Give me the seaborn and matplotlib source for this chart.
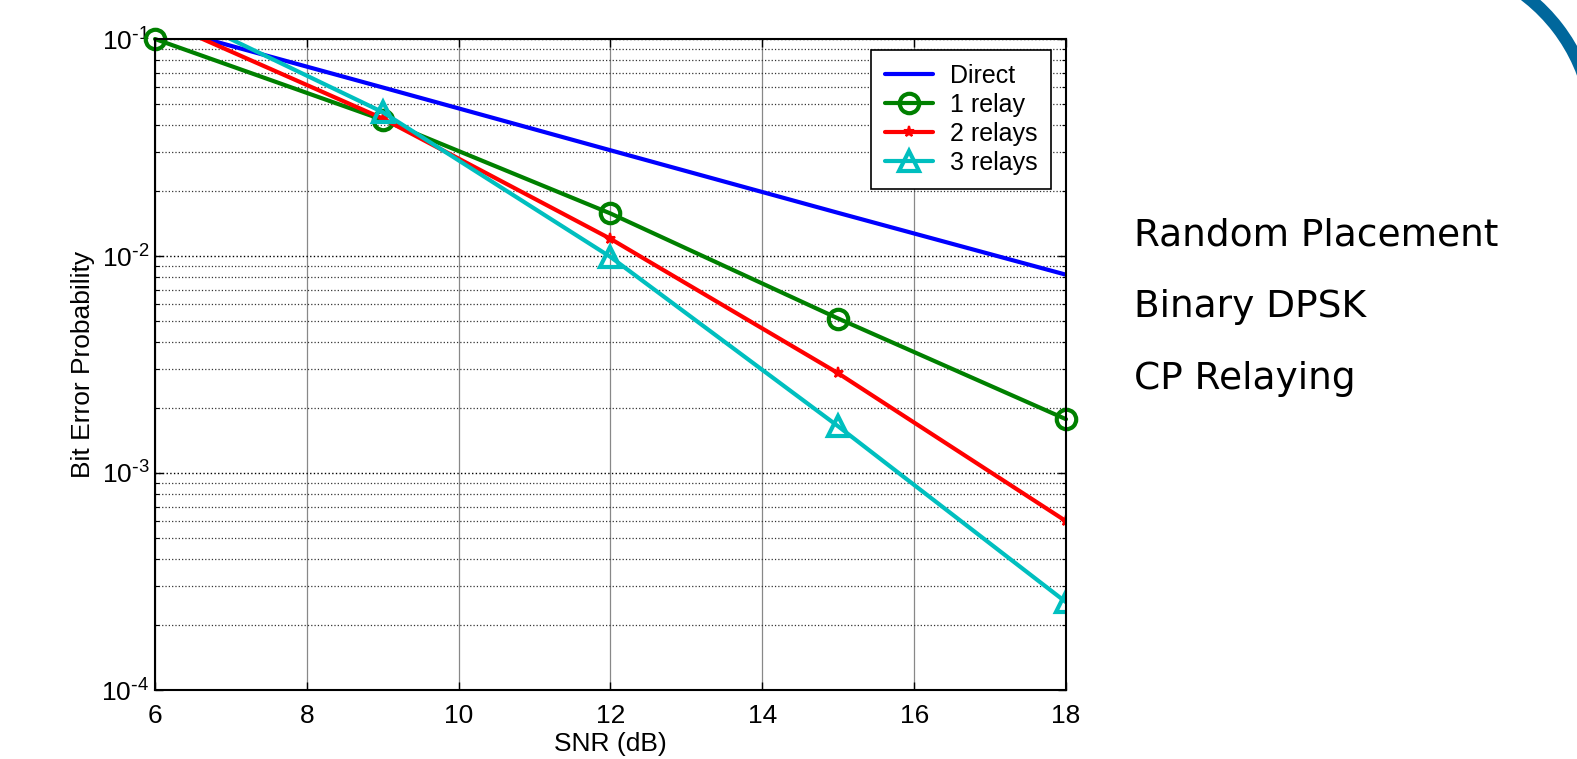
import matplotlib
matplotlib.use("Agg")
import matplotlib.pyplot as plt
from matplotlib.patches import Arc
from matplotlib.ticker import LogLocator, FixedFormatter
import numpy as np
import pandas as pd
import seaborn as sns

# values (BER vs SNR)
snr = [6, 9, 12, 15, 18]
direct = [0.116, 0.0598, 0.0307, 0.0158, 0.0082]
relay1 = [0.100, 0.0424, 0.0157, 0.00515, 0.00177]
relay2 = [0.125, 0.0430, 0.0120, 0.00288, 0.00060]
relay3 = [0.147, 0.0460, 0.0099, 0.00164, 0.000254]

side_notes = ["Random Placement", "Binary DPSK", "CP Relaying"]

sns.set_style("ticks")
plt.rcParams['font.family'] = ['Liberation Sans', 'DejaVu Sans']
plt.rcParams['text.color'] = 'black'
plt.rcParams['axes.labelcolor'] = 'black'
plt.rcParams['xtick.color'] = 'black'
plt.rcParams['ytick.color'] = 'black'

W, H = 1577, 759
fig = plt.figure(figsize=(W / 100, H / 100), dpi=100)
ax = fig.add_axes([155 / W, 1 - 690 / H, (1066 - 155) / W, (690 - 39) / H])

df = pd.DataFrame({'snr': snr, 'Direct': direct, '1 relay': relay1,
                   '2 relays': relay2, '3 relays': relay3})

colors = {'Direct': (0, 0, 1), '1 relay': (0, 0.5, 0),
          '2 relays': (1, 0, 0), '3 relays': (0, 0.75, 0.75)}
styles = {
    'Direct': dict(marker=None),
    '1 relay': dict(marker='o', markersize=14, markerfacecolor='none',
                    markeredgewidth=3, clip_on=False),
    '2 relays': dict(marker='*', markersize=8, markeredgewidth=1.5),
    '3 relays': dict(marker='^', markersize=14, markerfacecolor='none',
                     markeredgewidth=3),
}
for name, kw in styles.items():
    c = colors[name]
    sns.lineplot(data=df, x='snr', y=name, ax=ax, label=name, linewidth=3,
                 color=c, markeredgecolor=c, linestyle='-', dashes=False, **kw)

ax.set_yscale('log')
ax.set_xlim(6, 18)
ax.set_ylim(1e-4, 1e-1)
ax.set_xticks([6, 8, 10, 12, 14, 16, 18])
ax.yaxis.set_minor_locator(LogLocator(base=10, subs=np.arange(2, 10), numticks=20))
ax.set_yticks([1e-4, 1e-3, 1e-2, 1e-1])
ax.yaxis.set_major_formatter(FixedFormatter(
    [r'$\mathregular{10^{\text{-}%d}}$' % k for k in (4, 3, 2, 1)]))

ax.xaxis.grid(True, which='major', color='#888888', linestyle='-', linewidth=0.9)
ax.yaxis.grid(True, which='major', color='black', linestyle=':', linewidth=1.0)
ax.yaxis.grid(True, which='minor', color='#333333', linestyle=':', linewidth=0.9)
ax.set_axisbelow(True)

ax.tick_params(which='both', direction='in', top=True, right=True, labelsize=19)
ax.tick_params(axis='x', which='major', pad=10)
ax.tick_params(axis='y', which='major', pad=4)
ax.tick_params(which='major', length=6, width=1)
ax.tick_params(which='minor', length=3, width=0.8)
for sp in ax.spines.values():
    sp.set_linewidth(1.5)
    sp.set_color('black')

ax.set_xlabel('SNR (dB)', fontsize=19, labelpad=3)
ax.set_ylabel('Bit Error Probability', fontsize=19, labelpad=5)

leg = ax.legend(loc='upper right', bbox_to_anchor=(0.984, 0.983), borderaxespad=0,
                fontsize=18, frameon=True, fancybox=False, framealpha=1,
                edgecolor='black', handlelength=1.9, handletextpad=0.7,
                labelspacing=0.2, borderpad=0.55)
leg.get_frame().set_linewidth(1.2)

for i, txt in enumerate(side_notes):
    fig.text(1134 / W, 1 - (245 + 72 * i) / H, txt, fontsize=27,
             family='DejaVu Sans', ha='left', va='baseline', color='black')

# decorative arc in the top right corner (pixel units -> inches)
arc = Arc((14.18, 6.24), 3.52, 3.52, theta1=10, theta2=65,
          transform=fig.dpi_scale_trans, edgecolor='#00679c', linewidth=9)
fig.patches.append(arc)

fig.savefig('out.png', dpi=100)
